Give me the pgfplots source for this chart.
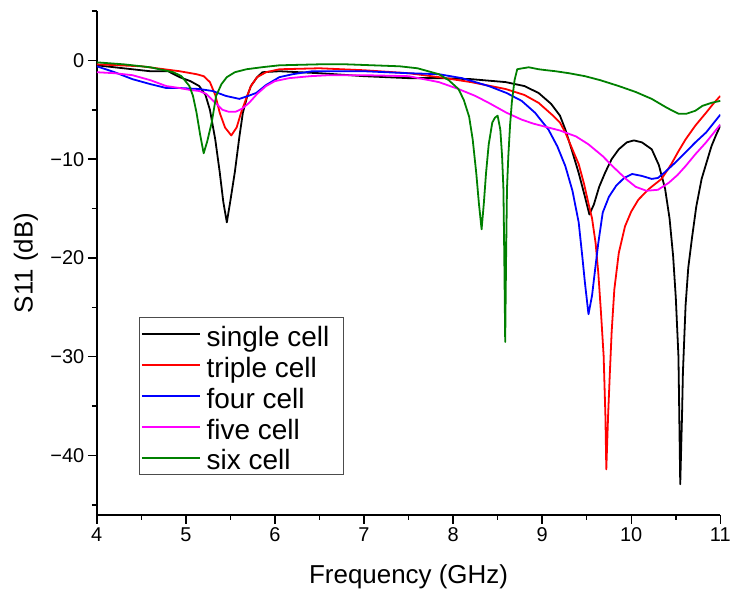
\documentclass[border=0pt]{standalone}
\usepackage{fontspec}
\setmainfont{Liberation Sans}
\usepackage{pgfplots}
\usepackage{pgfplotstable}
\pgfplotsset{compat=1.18}
\definecolor{dkgreen}{RGB}{0,128,0}
\definecolor{mag}{RGB}{255,0,255}
\newcommand{\lstrut}{\rule[-10.5pt]{0pt}{36pt}\hspace*{4pt}}

\pgfplotstableread{
f s
4.00 -0.5
4.30 -0.8
4.60 -1.1
4.80 -1.1
4.93 -1.7
5.05 -2.1
5.15 -2.6
5.22 -3.5
5.27 -5.0
5.33 -8.0
5.38 -11.3
5.42 -14.3
5.46 -16.4
5.50 -14.2
5.55 -11.3
5.60 -7.8
5.64 -5.3
5.69 -3.6
5.73 -2.6
5.80 -1.7
5.86 -1.2
6.05 -1.1
6.50 -1.3
7.00 -1.6
7.50 -1.8
7.84 -1.8
8.20 -1.9
8.59 -2.2
8.80 -2.6
8.96 -3.3
9.10 -4.4
9.20 -5.6
9.26 -7.0
9.33 -9.0
9.41 -11.4
9.48 -13.8
9.53 -15.6
9.58 -14.6
9.64 -12.8
9.71 -11.3
9.78 -10.0
9.86 -9.0
9.95 -8.3
10.03 -8.1
10.12 -8.3
10.23 -9.0
10.31 -10.6
10.38 -13.0
10.43 -16.0
10.47 -19.8
10.50 -24.0
10.53 -30.0
10.55 -42.9
10.57 -36.0
10.58 -31.6
10.61 -24.8
10.64 -21.0
10.68 -18.1
10.73 -14.8
10.79 -12.0
10.85 -10.2
10.90 -8.7
10.95 -7.6
11.00 -6.6
}\single

\pgfplotstableread{
f s
4.00 -0.4
4.50 -0.6
4.93 -1.1
5.12 -1.4
5.20 -1.6
5.27 -2.2
5.33 -3.5
5.38 -5.3
5.44 -6.8
5.51 -7.6
5.57 -6.8
5.62 -5.3
5.68 -3.8
5.73 -2.6
5.80 -1.7
5.90 -1.2
6.05 -0.9
6.50 -0.8
7.00 -1.0
7.50 -1.3
7.84 -1.7
8.20 -2.2
8.59 -2.9
8.80 -3.5
8.96 -4.3
9.11 -5.5
9.20 -6.3
9.26 -7.3
9.33 -8.8
9.41 -10.5
9.47 -12.5
9.52 -14.5
9.56 -16.0
9.60 -18.5
9.63 -21.5
9.66 -25.5
9.69 -29.9
9.71 -36.0
9.72 -41.4
9.74 -36.0
9.76 -31.6
9.78 -27.5
9.81 -23.2
9.86 -19.5
9.93 -16.8
10.00 -15.3
10.08 -14.1
10.20 -13.0
10.34 -12.0
10.45 -10.5
10.53 -9.2
10.61 -8.0
10.72 -6.6
10.84 -5.3
10.92 -4.4
11.00 -3.6
}\triple

\pgfplotstableread{
f s
4.00 -0.6
4.20 -1.2
4.40 -1.9
4.60 -2.4
4.78 -2.8
4.93 -2.8
5.15 -2.9
5.30 -3.1
5.45 -3.6
5.60 -3.9
5.70 -3.6
5.79 -3.3
5.90 -2.5
6.05 -1.7
6.20 -1.4
6.42 -1.1
7.00 -1.1
7.50 -1.3
7.84 -1.4
8.10 -1.8
8.40 -2.6
8.60 -3.3
8.77 -4.1
8.92 -5.3
9.07 -7.0
9.17 -8.7
9.26 -10.7
9.34 -13.2
9.41 -16.4
9.45 -19.8
9.48 -22.5
9.52 -25.7
9.56 -23.8
9.59 -21.5
9.63 -18.5
9.68 -15.4
9.75 -13.8
9.83 -12.7
9.92 -11.9
10.01 -11.5
10.12 -11.7
10.23 -12.0
10.30 -11.9
10.38 -11.3
10.50 -10.3
10.61 -9.3
10.72 -8.3
10.84 -7.3
10.92 -6.4
11.00 -5.5
}\four

\pgfplotstableread{
f s
4.00 -1.2
4.20 -1.3
4.40 -1.5
4.60 -2.0
4.78 -2.6
4.93 -2.8
5.05 -3.0
5.15 -3.1
5.23 -3.4
5.32 -4.2
5.41 -5.0
5.48 -5.2
5.56 -5.2
5.63 -4.9
5.71 -4.3
5.80 -3.4
5.90 -2.6
6.00 -2.1
6.16 -1.8
6.40 -1.6
6.61 -1.5
7.00 -1.5
7.50 -1.6
7.84 -2.2
8.06 -2.9
8.25 -3.6
8.40 -4.3
8.60 -5.3
8.77 -6.0
8.90 -6.4
9.07 -6.8
9.20 -7.1
9.38 -7.7
9.52 -8.5
9.60 -9.1
9.68 -9.7
9.80 -10.8
9.94 -12.0
10.05 -12.8
10.17 -13.2
10.30 -13.1
10.42 -12.4
10.52 -11.6
10.61 -10.7
10.72 -9.5
10.84 -8.3
10.92 -7.4
11.00 -6.5
}\five

\pgfplotstableread{
f s
4.00 -0.2
4.30 -0.4
4.60 -0.7
4.86 -1.2
4.95 -1.6
5.04 -2.6
5.08 -3.6
5.12 -5.3
5.16 -7.5
5.20 -9.4
5.24 -8.2
5.29 -6.3
5.34 -3.6
5.40 -2.4
5.46 -1.7
5.55 -1.2
5.68 -0.9
5.85 -0.7
6.05 -0.5
6.50 -0.4
6.80 -0.4
7.10 -0.5
7.40 -0.6
7.60 -0.8
7.84 -1.4
7.95 -2.0
8.06 -2.9
8.12 -4.0
8.18 -5.7
8.22 -8.0
8.26 -11.4
8.29 -14.5
8.32 -17.1
8.345 -14.5
8.37 -11.4
8.40 -8.5
8.44 -6.3
8.47 -5.8
8.50 -5.6
8.53 -7.0
8.55 -9.7
8.565 -13.0
8.575 -20.0
8.585 -28.5
8.595 -20.0
8.605 -13.0
8.62 -9.7
8.64 -6.5
8.66 -4.2
8.69 -2.0
8.72 -0.9
8.78 -0.8
8.85 -0.7
8.96 -0.9
9.05 -1.0
9.15 -1.1
9.30 -1.3
9.48 -1.6
9.65 -2.0
9.86 -2.6
10.05 -3.2
10.23 -3.9
10.40 -4.8
10.53 -5.4
10.62 -5.4
10.72 -5.1
10.80 -4.6
10.90 -4.3
11.00 -4.1
}\six

\begin{document}
\begin{tikzpicture}
\begin{axis}[
  scale only axis,
  width=625pt, height=505pt,
  xmin=4, xmax=11, ymin=-46, ymax=5,
  axis x line*=bottom, axis y line*=left,
  axis line style={line width=1.5pt,-},
  tick align=outside,
  major tick length=9pt, minor tick length=5pt,
  every tick/.style={line width=1.5pt,black},
  xtick={4,5,6,7,8,9,10,11},
  minor xtick={4.5,5.5,6.5,7.5,8.5,9.5,10.5},
  ytick={-40,-30,-20,-10,0},
  yticklabels={−40,−30,−20,−10,0},
  minor ytick={-45,-35,-25,-15,-5,5},
  /pgf/number format/assume math mode=true,
  tick label style={font=\fontsize{20}{24}\selectfont},
  label style={font=\fontsize{26}{30}\selectfont},
  xlabel={Frequency (GHz)},
  ylabel={S11 (dB)},
  xlabel style={at={(axis description cs:0.5,-0.1228)}, anchor=center},
  ylabel style={at={(axis description cs:-0.1136,0.5)}, anchor=center},
  legend style={at={(0.067,0.392)}, anchor=north west, draw=black!70, line width=1pt,
    font=\fontsize{28}{33}\selectfont, row sep=0pt, inner xsep=2pt, inner ysep=1pt,
    cells={anchor=west}},
  legend image code/.code={\draw[#1] (0pt,0pt) -- (58pt,0pt);},
  every axis plot/.append style={line width=1.8pt, line join=round},
]
\addplot[black] table[x=f,y=s] {\single};
\addlegendentry{\lstrut single cell\hspace*{10pt}}
\addplot[red] table[x=f,y=s] {\triple};
\addlegendentry{\lstrut triple cell}
\addplot[blue] table[x=f,y=s] {\four};
\addlegendentry{\lstrut four cell}
\addplot[mag] table[x=f,y=s] {\five};
\addlegendentry{\lstrut five cell}
\addplot[dkgreen] table[x=f,y=s] {\six};
\addlegendentry{\lstrut six cell}
\end{axis}
\useasboundingbox ([xshift=-97pt,yshift=-83pt]current axis.south west) rectangle ([xshift=12pt,yshift=11pt]current axis.north east);
\end{tikzpicture}
\end{document}
